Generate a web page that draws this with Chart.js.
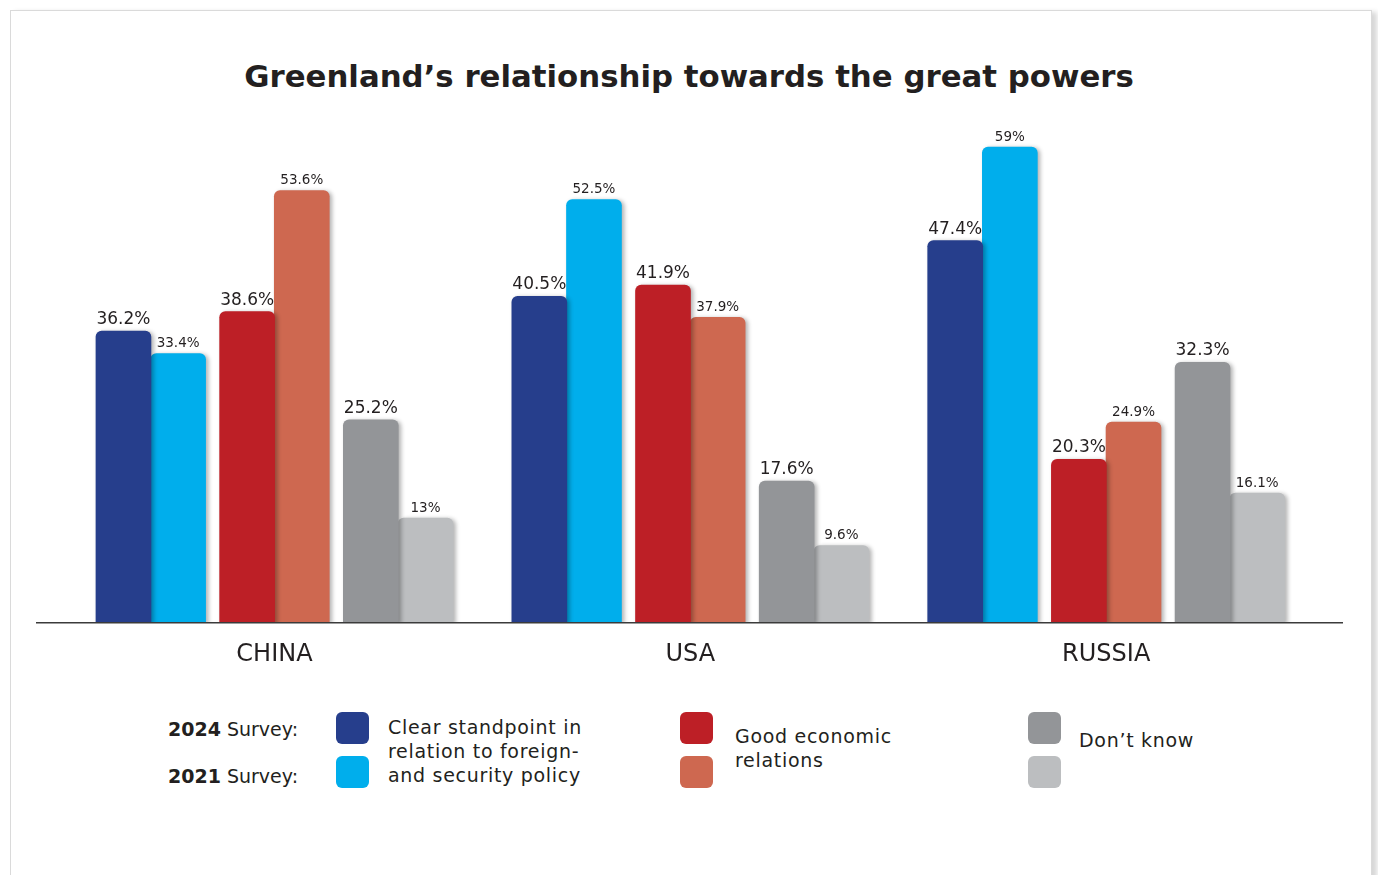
<!DOCTYPE html>
<html>
<head>
<meta charset="utf-8">
<title>Greenland's relationship towards the great powers</title>
<script src="https://cdn.jsdelivr.net/npm/chart.js"></script>
<style>
  body { margin: 0; background: #fff; font-family: "DejaVu Sans", sans-serif; color: #231f20; }
  .card {
    position: absolute; left: 10px; top: 10px; width: 1360px; height: 900px;
    border: 1px solid #dadada; background: #fff;
    box-shadow: 5px 2px 5px rgba(0, 0, 0, 0.16);
  }
  h1 {
    position: absolute; left: 0; top: 58px; width: 1378px; margin: 0;
    text-align: center; font-size: 30.8px; line-height: 36px; font-weight: bold;
  }
  #wrap { position: absolute; left: 0; top: 0; width: 1378px; height: 690px; }
  .lbl { position: absolute; white-space: nowrap; font-size: 19px; line-height: 24px; }
  .txt { letter-spacing: 0.7px; }
  .sw { position: absolute; width: 33px; height: 32px; border-radius: 6px; }
</style>
</head>
<body>
<div class="card"></div>
<h1>Greenland’s relationship towards the great powers</h1>
<div id="wrap"><canvas id="powersChart"></canvas></div>
<div id="legend"></div>

<script>
const categories = ["CHINA", "USA", "RUSSIA"];

// share of respondents, %
const clear2024 = [36.2, 40.5, 47.4];
const clear2021 = [33.4, 52.5, 59];
const economy2024 = [38.6, 41.9, 20.3];
const economy2021 = [53.6, 37.9, 24.9];
const dontKnow2024 = [25.2, 17.6, 32.3];
const dontKnow2021 = [13, 9.6, 16.1];

const topicLabels = [
  ["Clear standpoint in", "relation to foreign-", "and security policy"],
  ["Good economic", "relations"],
  ["Don’t know"]
];
const surveyLabels = ["2024", "2021"];

const series = [
  { name: "Clear standpoint 2024", values: clear2024, color: "#263e8c", topic: 0, year: 0 },
  { name: "Clear standpoint 2021", values: clear2021, color: "#00aeec", topic: 0, year: 1 },
  { name: "Good economic relations 2024", values: economy2024, color: "#bd1f26", topic: 1, year: 0 },
  { name: "Good economic relations 2021", values: economy2021, color: "#ce6850", topic: 1, year: 1 },
  { name: "Don't know 2024", values: dontKnow2024, color: "#939598", topic: 2, year: 0 },
  { name: "Don't know 2021", values: dontKnow2021, color: "#bcbec0", topic: 2, year: 1 }
];

// bar layout inside one country group (x axis units: 1 = one country)
const PAIR_STEP = 0.2974;
const HALF_BAR = 0.0657;
const FONT = "'DejaVu Sans', sans-serif";
const INK = "#231f20";

const datasets = series.map((s) => ({
  label: s.name,
  data: s.values.map((v, i) => ({
    x: i + (s.topic - 1) * PAIR_STEP + (s.year === 0 ? -HALF_BAR : HALF_BAR),
    y: v
  })),
  backgroundColor: s.color,
  borderRadius: { topLeft: 6, topRight: 6 },
  borderSkipped: "bottom",
  barThickness: 55,
  grouped: false,
  order: s.year, // 2024 bars sit on top of the 2021 ones
  year: s.year
}));

const barShadow = {
  id: "barShadow",
  beforeDatasetDraw(chart) {
    const c = chart.ctx;
    c.save();
    c.shadowColor = "rgba(0, 0, 0, 0.3)";
    c.shadowBlur = 4;
    c.shadowOffsetX = 2.5;
    c.shadowOffsetY = 1;
  },
  afterDatasetDraw(chart) {
    chart.ctx.restore();
  }
};

const valueLabels = {
  id: "valueLabels",
  afterDatasetsDraw(chart) {
    const c = chart.ctx;
    chart.data.datasets.forEach((ds, i) => {
      const meta = chart.getDatasetMeta(i);
      const big = ds.year === 0;
      c.save();
      c.font = (big ? "17px " : "13.5px ") + FONT;
      c.fillStyle = INK;
      c.textAlign = "center";
      c.textBaseline = "alphabetic";
      meta.data.forEach((bar, j) => {
        c.fillText(ds.data[j].y + "%", bar.x, bar.y - (big ? 7 : 6.5));
      });
      c.restore();
    });
  }
};

new Chart(document.getElementById("powersChart"), {
  type: "bar",
  data: { datasets },
  options: {
    responsive: true,
    maintainAspectRatio: false,
    animation: false,
    layout: { padding: { left: 37, right: 36, top: 139, bottom: 7 } },
    plugins: {
      legend: { display: false },
      title: { display: false },
      tooltip: { enabled: false }
    },
    scales: {
      x: {
        type: "linear",
        offset: false,
        min: -0.571,
        max: 2.567,
        grid: { display: false, drawTicks: false },
        border: { display: true, color: "#3b3b3b", width: 1.5, z: 1 },
        afterBuildTicks: (scale) => {
          scale.ticks = categories.map((_, i) => ({ value: i }));
        },
        afterFit: (scale) => {
          scale.height = 60;
        },
        ticks: {
          autoSkip: false,
          maxRotation: 0,
          padding: 17,
          color: INK,
          font: { family: FONT, size: 24 },
          callback: (value) => categories[value]
        }
      },
      y: { display: false, min: 0, max: 60 }
    }
  },
  plugins: [barShadow, valueLabels]
});

// legend under the chart
const legend = document.getElementById("legend");
function addEl(cls, css, html) {
  const el = document.createElement("div");
  el.className = cls;
  Object.assign(el.style, css);
  if (html) el.innerHTML = html;
  legend.appendChild(el);
}
surveyLabels.forEach((year, k) => {
  addEl("lbl", { left: "168px", top: (717 + k * 47) + "px" }, "<b>" + year + "</b> Survey:");
});
const swatchX = [336, 680, 1028];
const textX = [388, 735, 1079];
const textTop = [715, 724, 728];
topicLabels.forEach((lines, t) => {
  series.filter((s) => s.topic === t).forEach((s) => {
    addEl("sw", { left: swatchX[t] + "px", top: (s.year === 0 ? 711.5 : 755.5) + "px", background: s.color });
  });
  addEl("lbl txt", { left: textX[t] + "px", top: textTop[t] + "px" }, lines.join("<br>"));
});
</script>
</body>
</html>
